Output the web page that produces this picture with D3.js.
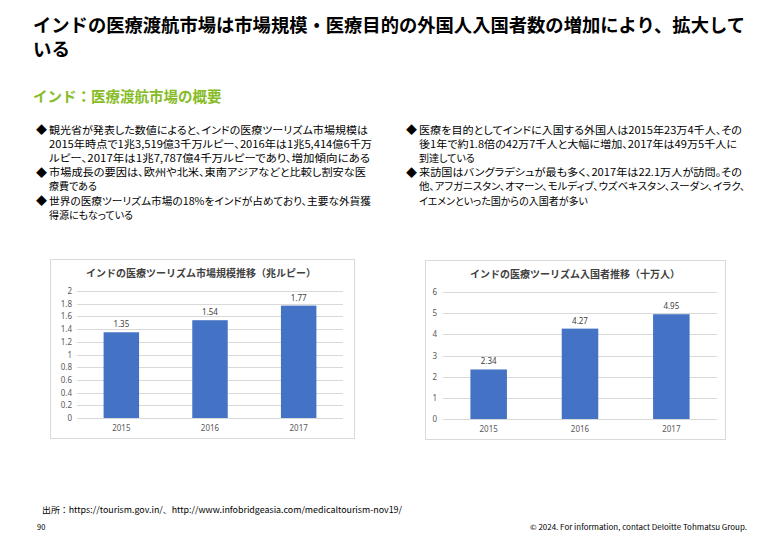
<!DOCTYPE html>
<html><head><meta charset="utf-8">
<script src="https://cdn.jsdelivr.net/npm/d3@7/dist/d3.min.js"></script>
<style>
html,body{margin:0;padding:0;background:#fff;}
svg{display:block;font-family:"Noto Sans CJK JP","Noto Sans",sans-serif;}
.b{font-feature-settings:"palt";}
</style></head>
<body>
<svg id="c" width="780" height="540"></svg>
<script>
// ---- data ----
const years = ["2015", "2016", "2017"];
const marketSize = [1.35, 1.54, 1.77];            // 兆ルピー
const marketTicks = [0, 0.2, 0.4, 0.6, 0.8, 1, 1.2, 1.4, 1.6, 1.8, 2];
const arrivals = [2.34, 4.27, 4.95];              // 十万人
const arrivalTicks = [0, 1, 2, 3, 4, 5, 6];

const titleLines = ["インドの医療渡航市場は市場規模・医療目的の外国人入国者数の増加により、拡大して", "いる"];
const subtitle = "インド：医療渡航市場の概要";
const leftBullets = [
  ["観光省が発表した数値によると、インドの医療ツーリズム市場規模は", "2015年時点で1兆3,519億3千万ルピー、2016年は1兆5,414億6千万", "ルピー、2017年は1兆7,787億4千万ルピーであり、増加傾向にある"],
  ["市場成長の要因は、欧州や北米、東南アジアなどと比較し割安な医", "療費である"],
  ["世界の医療ツーリズム市場の18%をインドが占めており、主要な外貨獲", "得源にもなっている"]
];
const rightBullets = [
  ["医療を目的としてインドに入国する外国人は2015年23万4千人、その", "後1年で約1.8倍の42万7千人と大幅に増加、2017年は49万5千人に", "到達している"],
  ["来訪国はバングラデシュが最も多く、2017年は22.1万人が訪問。その", "他、アフガニスタン、オマーン、モルディブ、ウズベキスタン、スーダン、イラク、", "イエメンといった国からの入国者が多い"]
];
const chart1Title = "インドの医療ツーリズム市場規模推移（兆ルピー）";
const chart2Title = "インドの医療ツーリズム入国者推移（十万人）";
const sourceText = "出所：https://tourism.gov.in/、http://www.infobridgeasia.com/medicaltourism-nov19/";
const pageNum = "90";
const copyright = "© 2024. For information, contact Deloitte Tohmatsu Group.";

// ---- drawing ----
const svg = d3.select("#c");

// title
svg.append("text").attr("x", 33).attr("y", 32).attr("font-size", 18.5).attr("font-weight", 700)
  .attr("fill", "#000").attr("textLength", 712).attr("lengthAdjust", "spacingAndGlyphs").text(titleLines[0]);
svg.append("text").attr("x", 33).attr("y", 56).attr("font-size", 18.5).attr("font-weight", 700)
  .attr("fill", "#000").text(titleLines[1]);

svg.append("text").attr("x", 33).attr("y", 102).attr("font-size", 14.5).attr("font-weight", 700)
  .attr("fill", "#86BC25").text(subtitle);

function bullets(list, xd, xt, y0, lh, widths) {
  let y = y0, k = 0;
  list.forEach(lines => {
    svg.append("text").attr("x", xd).attr("y", y + 0.5).attr("font-size", 11).attr("fill", "#000").text("◆");
    lines.forEach(l => {
      const t = svg.append("text").attr("class", "b").attr("x", xt).attr("y", y).attr("font-size", 10).attr("fill", "#000").text(l);
      if (widths && widths[k]) t.attr("textLength", widths[k]).attr("lengthAdjust", "spacingAndGlyphs");
      k++;
      y += lh;
    });
  });
}
bullets(leftBullets, 36, 49, 133.5, 14.2, [319, 323, 321, 317, null, 322, null]);
bullets(rightBullets, 406, 419, 133.5, 14.2, [323, 318, null, 323, 326, null]);

function barChart(cfg) {
  const g = svg.append("g");
  g.append("rect").attr("x", cfg.box[0]).attr("y", cfg.box[1]).attr("width", cfg.box[2]).attr("height", cfg.box[3])
    .attr("fill", "#fff").attr("stroke", "#d9d9d9").attr("stroke-width", 1);
  g.append("text").attr("x", cfg.titleX).attr("y", cfg.titleY).attr("text-anchor", "middle")
    .attr("font-size", 10).attr("font-weight", 700).attr("fill", "#404040").text(cfg.title);
  const y = d3.scaleLinear().domain(cfg.domain).range(cfg.yRange);
  const x = d3.scaleBand().domain(years).range(cfg.xRange).paddingInner(0.6).paddingOuter(0.3);
  // grid
  g.append("g").selectAll("line").data(cfg.ticks).join("line")
    .attr("x1", cfg.xRange[0]).attr("x2", cfg.xRange[1])
    .attr("y1", d => Math.round(y(d)) + 0.5).attr("y2", d => Math.round(y(d)) + 0.5)
    .attr("stroke", "#d9d9d9").attr("stroke-width", 1);
  // y axis labels
  const ya = d3.axisLeft(y).tickValues(cfg.ticks).tickSize(0).tickPadding(0).tickFormat(d3.format("~g"));
  const yg = g.append("g").attr("transform", `translate(${cfg.yLabelX},0)`).call(ya);
  yg.select(".domain").remove();
  yg.selectAll("text").attr("font-size", 8).attr("fill", "#595959").attr("font-family", "'Noto Sans','Noto Sans CJK JP',sans-serif");
  // bars
  g.append("g").selectAll("rect").data(cfg.values).join("rect")
    .attr("x", (d, i) => x(years[i])).attr("width", x.bandwidth())
    .attr("y", d => y(d)).attr("height", d => y(0) - y(d)).attr("fill", "#4472C4");
  // data labels
  g.append("g").selectAll("text").data(cfg.values).join("text")
    .attr("x", (d, i) => x(years[i]) + x.bandwidth() / 2).attr("y", d => y(d) - 5)
    .attr("text-anchor", "middle").attr("font-size", 8).attr("fill", "#404040")
    .attr("font-family", "'Noto Sans','Noto Sans CJK JP',sans-serif")
    .text(d => d3.format(".2f")(d));
  // x axis
  const xa = d3.axisBottom(x).tickSize(0).tickPadding(0);
  const xg = g.append("g").attr("transform", `translate(0,${cfg.xLabelY})`).call(xa);
  xg.select(".domain").remove();
  xg.selectAll("text").attr("font-size", 8).attr("fill", "#595959").attr("font-family", "'Noto Sans','Noto Sans CJK JP',sans-serif");
}

barChart({
  box: [50.5, 259.5, 304, 179], title: chart1Title, titleX: 201, titleY: 277,
  domain: [0, 2], yRange: [418, 291], xRange: [77, 343], ticks: marketTicks,
  values: marketSize, yLabelX: 72, xLabelY: 425
});
barChart({
  box: [425.5, 260.5, 300, 179], title: chart2Title, titleX: 575, titleY: 278,
  domain: [0, 6], yRange: [419, 292], xRange: [443, 717], ticks: arrivalTicks,
  values: arrivals, yLabelX: 437, xLabelY: 426
});

// footer
svg.append("text").attr("x", 42).attr("y", 513).attr("font-size", 8.5).attr("fill", "#000")
  .attr("textLength", 360).attr("lengthAdjust", "spacingAndGlyphs").text(sourceText);
svg.append("text").attr("x", 37).attr("y", 530).attr("font-size", 7.5).attr("fill", "#000").text(pageNum);
svg.append("text").attr("x", 747).attr("y", 530).attr("font-size", 7.5).attr("fill", "#000")
  .attr("text-anchor", "end").attr("textLength", 217).attr("lengthAdjust", "spacingAndGlyphs").text(copyright);
</script>
</body></html>
